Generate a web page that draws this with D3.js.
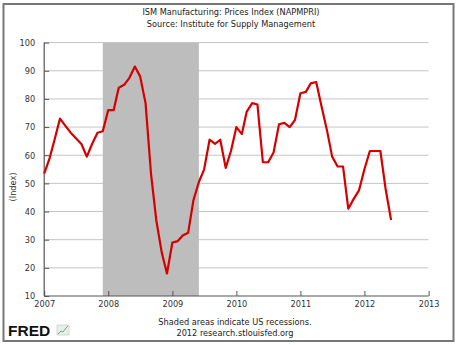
<!DOCTYPE html>
<html><head><meta charset="utf-8">
<script src="https://cdn.jsdelivr.net/npm/d3@7"></script>
<style>
html,body{margin:0;padding:0;background:#fff;}
svg text{font-family:"DejaVu Sans",Verdana,sans-serif;}
</style></head>
<body>
<script>
// ---- data ----
const startMonth = "2007-01";
const values = [
  53.5, 59, 65.5, 73, 70.5, 68, 66, 64, 59.5, 64, 68, 68.5,      // 2007
  76, 76, 84, 85, 87.5, 91.5, 88, 78.5, 53.5, 37, 25.5, 18,      // 2008
  29, 29.5, 31.5, 32.5, 44, 50.5, 55, 65.5, 64, 65.5, 55.5, 61.5, // 2009
  70, 67.5, 75.5, 78.5, 78, 57.5, 57.5, 61, 71, 71.5, 70, 72.5,  // 2010
  82, 82.5, 85.5, 86, 77.5, 69, 59.5, 56, 56, 41, 44.5, 47.5,    // 2011
  55, 61.5, 61.5, 61.5, 48, 37                                    // 2012
];
const recessionStart = "2007-12-01";
const recessionEnd = "2009-06-01";
const yTicks = [10, 20, 30, 40, 50, 60, 70, 80, 90, 100];
const xTickYears = [2007, 2008, 2009, 2010, 2011, 2012, 2013];
const titleLines = ["ISM Manufacturing: Prices Index (NAPMPRI)", "Source: Institute for Supply Management"];
const yLabel = "(Index)";
const footerLines = ["Shaded areas indicate US recessions.", "2012 research.stlouisfed.org"];

// ---- build ----
const W = 460, H = 345;
const svg = d3.select("body").append("svg").attr("width", W).attr("height", H);

const parse = d3.timeParse("%Y-%m-%d");
const start = parse(startMonth + "-01");
const data = values.map((v, i) => ({date: d3.timeMonth.offset(start, i), value: v}));

const x = d3.scaleTime().domain([new Date(2007, 0, 1), new Date(2013, 0, 1)]).range([44.2, 428.6]);
const y = d3.scaleLinear().domain([10, 100]).range([296, 42.6]);

// outer border
svg.append("rect").attr("x", 3.5).attr("y", 4).attr("width", 450).attr("height", 337)
  .attr("fill", "none").attr("stroke", "#777").attr("stroke-width", 2);

// titles
svg.selectAll("text.title").data(titleLines).join("text")
  .attr("x", 231).attr("y", (d, i) => 15 + i * 12)
  .attr("text-anchor", "middle").attr("font-size", 8.2).attr("fill", "#222").text(d => d);

// gridlines
svg.append("g").selectAll("line").data(yTicks.filter(t => t > 10)).join("line")
  .attr("x1", x.range()[0]).attr("x2", x.range()[1])
  .attr("y1", d => y(d)).attr("y2", d => y(d))
  .attr("stroke", "#c4c4c4").attr("stroke-width", 1);

// recession shading
svg.append("rect")
  .attr("x", x(parse(recessionStart))).attr("y", y(100))
  .attr("width", x(parse(recessionEnd)) - x(parse(recessionStart)))
  .attr("height", y(10) - y(100))
  .attr("fill", "#bdbdbd");

// y axis
const yAxis = d3.axisLeft(y).tickValues(yTicks).tickSize(-5).tickPadding(9).tickFormat(d3.format("d"));
const gy = svg.append("g").attr("transform", `translate(${x.range()[0]},0)`).call(yAxis);
// x axis
const xAxis = d3.axisBottom(x).tickValues(xTickYears.map(yr => new Date(yr, 0, 1)))
  .tickSize(-5).tickPadding(5).tickFormat(d3.timeFormat("%Y"));
const gx = svg.append("g").attr("transform", `translate(0,${y(10)})`).call(xAxis);
[gy, gx].forEach(g => {
  g.select(".domain").attr("stroke", "#555").attr("stroke-width", 1.2);
  g.selectAll(".tick line").attr("stroke", "#555");
  g.selectAll(".tick text").attr("fill", "#333").attr("font-size", 8.2)
    .attr("font-family", "DejaVu Sans, Verdana, sans-serif");
});
gy.select(".domain").attr("d", `M0,${y(100)}V${y(10)}`);
gx.select(".domain").attr("d", `M${x.range()[0]},0H${x.range()[1]}`);
gy.selectAll(".tick text").attr("dy", "0.35em");
gx.selectAll(".tick text").attr("dy", "0.71em");

// y label
svg.append("text").attr("transform", `translate(16,187) rotate(-90)`)
  .attr("text-anchor", "middle").attr("font-size", 8.2).attr("fill", "#333").text(yLabel);

// line
const line = d3.line().x(d => x(d.date)).y(d => y(d.value));
svg.append("path").datum(data).attr("d", line)
  .attr("fill", "none").attr("stroke", "#d40000").attr("stroke-width", 2.2)
  .attr("stroke-linejoin", "round");

// footer
svg.selectAll("text.foot").data(footerLines).join("text")
  .attr("x", 235).attr("y", (d, i) => 325 + i * 11)
  .attr("text-anchor", "middle").attr("font-size", 8.2).attr("fill", "#222").text(d => d);

// FRED logo
svg.append("text").attr("x", 8).attr("y", 335.5)
  .attr("font-family", "Liberation Sans, Arial, sans-serif").attr("font-weight", "bold")
  .attr("font-size", 15.5).attr("fill", "#111").attr("style", "font-family:'Liberation Sans',Arial,sans-serif")
  .text("FRED");
const icon = svg.append("g").attr("transform", "translate(57,325)");
icon.append("rect").attr("width", 12).attr("height", 10).attr("fill", "#e8eee8").attr("stroke", "#b8c8b8").attr("stroke-width", 0.6);
icon.append("path").attr("d", "M1,9 L4,6 L6,7 L9,3 L11,1").attr("fill", "none").attr("stroke", "#7fa07f").attr("stroke-width", 1);
</script>
</body></html>
